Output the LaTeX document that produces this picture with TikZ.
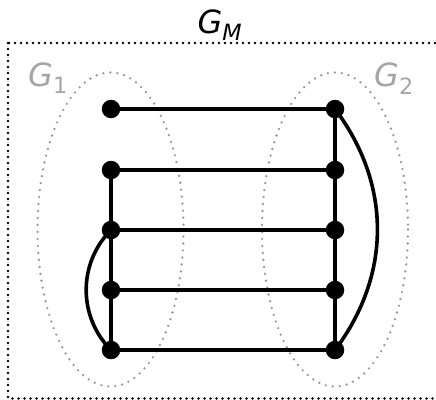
\documentclass[tikz,border=0pt]{standalone}
\usepackage{fontspec}
\setmainfont{DejaVu Sans}
\usepackage{tikz}

\tikzset{
  vtx/.style={circle, fill=black, inner sep=0pt, minimum size=18.5pt},
  edge/.style={line width=3.6pt},
  part/.style={draw=black!40, line width=2.6pt, dash pattern=on 0pt off 7pt, line cap=round},
  frame/.style={draw=black, line width=2.6pt, dash pattern=on 0pt off 6pt, line cap=round},
  lbl/.style={font=\fontsize{32}{34}\selectfont, anchor=base, inner sep=0pt}
}

\begin{document}
\begin{tikzpicture}[x=1pt,y=-1pt]
\useasboundingbox (0,0) rectangle (436,399);
\draw[frame] (8,43) rectangle (460,398.5);
\draw[part] (110.5,229.5) ellipse [x radius=73, y radius=157];
\draw[part] (335,229.5) ellipse [x radius=73, y radius=157];
\node[lbl] (gm) at (220,33) {\textit{G}\textsubscript{\textit{M}}};
\node[lbl, text=black!35] (g1) at (48,86) {\textit{G}\textsubscript{1}};
\node[lbl, text=black!35] (g2) at (394,86) {\textit{G}\textsubscript{2}};
\node[vtx] (a1) at (111,109) {};
\node[vtx] (a2) at (111,170) {};
\node[vtx] (a3) at (111,230) {};
\node[vtx] (a4) at (111,290) {};
\node[vtx] (a5) at (111,350) {};
\node[vtx] (b1) at (335,109) {};
\node[vtx] (b2) at (335,170) {};
\node[vtx] (b3) at (335,230) {};
\node[vtx] (b4) at (335,290) {};
\node[vtx] (b5) at (335,350) {};
\draw[edge] (a1) -- (b1);
\draw[edge] (a2) -- (b2);
\draw[edge] (a3) -- (b3);
\draw[edge] (a4) -- (b4);
\draw[edge] (a5) -- (b5);
\draw[edge] (a2) -- (a5);
\draw[edge] (b1) -- (b5);
\draw[edge] (a3.center) to[bend right=45] (a5.center);
\draw[edge] (b1.center) to[bend left=37] (b5.center);
\end{tikzpicture}
\end{document}
